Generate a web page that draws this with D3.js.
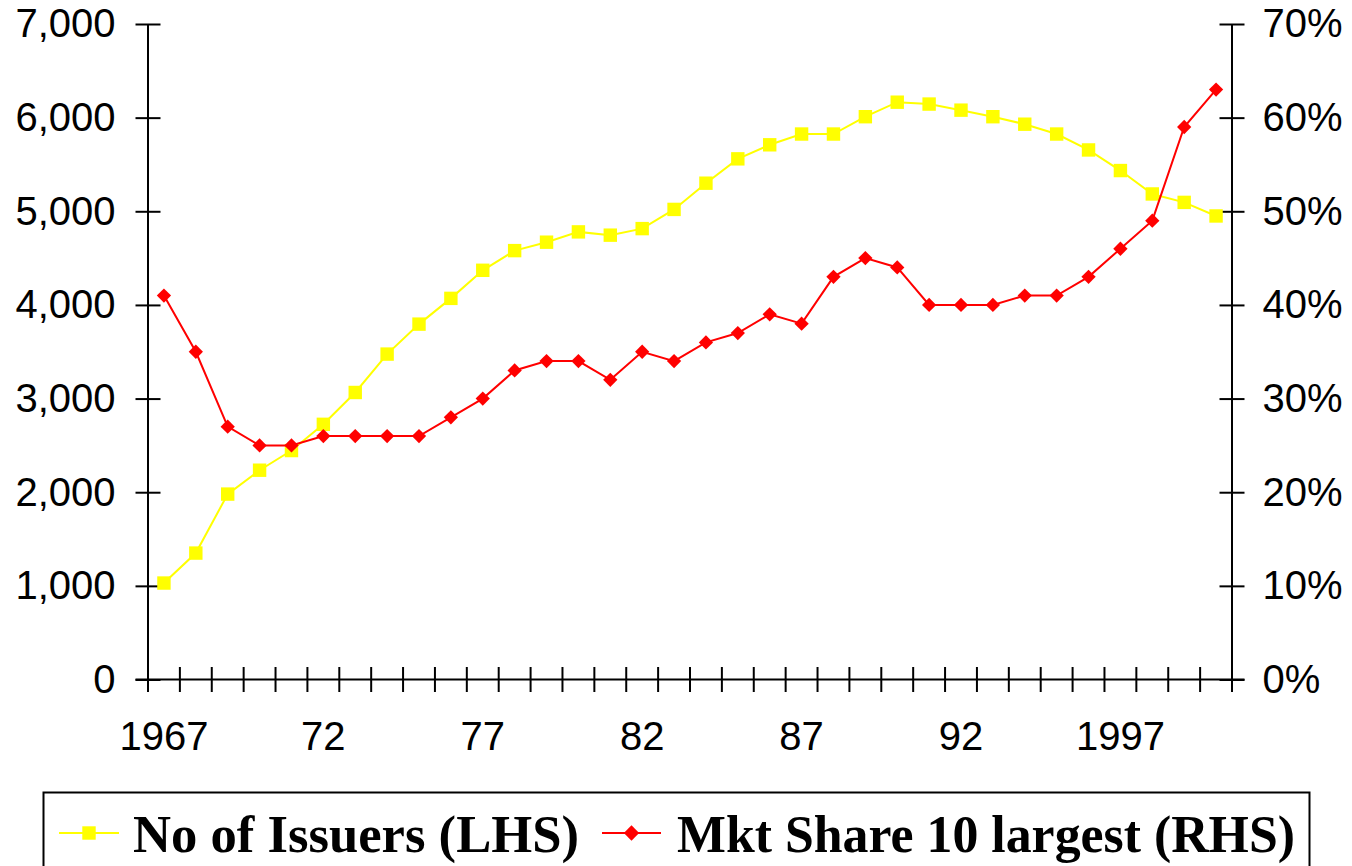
<!DOCTYPE html>
<html>
<head>
<meta charset="utf-8">
<script src="https://cdn.jsdelivr.net/npm/d3@7"></script>
<style>
  body { margin: 0; background: #fff; }
  svg { display: block; }
</style>
</head>
<body>
<svg id="chart"></svg>
<script>
const width = 1352;
const height = 866;

// data
const years = d3.range(1967, 2001);
const issuers = [1030, 1350, 1980, 2235, 2445, 2725, 3065, 3475, 3795, 4070,
  4370, 4580, 4670, 4780, 4745, 4815, 5020, 5300, 5560, 5710,
  5825, 5825, 6010, 6165, 6145, 6080, 6010, 5930, 5825, 5655,
  5435, 5185, 5095, 4950];
const mktShare = [41, 35, 27, 25, 25, 26, 26, 26, 26, 28,
  30, 33, 34, 34, 32, 35, 34, 36, 37, 39,
  38, 43, 45, 44, 40, 40, 40, 41, 41, 43,
  46, 49, 59, 63];
const leftTicks = d3.range(0, 7001, 1000);
const rightTicks = d3.range(0, 71, 10);
const yearLabels = { 1967: "1967", 1972: "72", 1977: "77", 1982: "82", 1987: "87", 1992: "92", 1997: "1997" };
const legendItems = ["No of Issuers (LHS)", "Mkt Share 10 largest (RHS)"];

const plot = { left: 148, right: 1232, top: 24, bottom: 679.5 };
const axisFont = "'Liberation Sans', Arial, sans-serif";
const tickHalf = 12.5;

const svg = d3.select("#chart")
  .attr("width", width)
  .attr("height", height);

const x = d3.scaleBand()
  .domain(years)
  .range([plot.left, plot.right]);
const yL = d3.scaleLinear()
  .domain([0, 7000])
  .range([plot.bottom, plot.top]);
const yR = d3.scaleLinear()
  .domain([0, 70])
  .range([plot.bottom, plot.top]);
const cx = d => x(d) + x.bandwidth() / 2;

// left axis
const leftAxis = svg.append("g")
  .attr("transform", `translate(${plot.left},0)`)
  .call(d3.axisLeft(yL).tickValues(leftTicks).tickFormat(d3.format(",")).tickSize(tickHalf).tickPadding(20));
leftAxis.selectAll(".tick line").attr("x1", tickHalf).attr("x2", -tickHalf);

// right axis
const rightAxis = svg.append("g")
  .attr("transform", `translate(${plot.right},0)`)
  .call(d3.axisRight(yR).tickValues(rightTicks).tickFormat(d => d + "%").tickSize(tickHalf).tickPadding(18));
rightAxis.selectAll(".tick line").attr("x1", -tickHalf).attr("x2", tickHalf);

[leftAxis, rightAxis].forEach(g => {
  g.select(".domain").attr("d", `M0,${plot.top}V${plot.bottom}`);
  g.selectAll("path, line").attr("stroke", "#000").attr("stroke-width", 2);
  g.selectAll("text")
    .attr("font-family", axisFont)
    .attr("font-size", 40)
    .attr("fill", "#000");
});

// category axis, ticks sit between the years
const xAxis = svg.append("g");
xAxis.append("line")
  .attr("x1", plot.left - tickHalf)
  .attr("x2", plot.right + tickHalf)
  .attr("y1", plot.bottom)
  .attr("y2", plot.bottom)
  .attr("stroke", "#000")
  .attr("stroke-width", 2);
xAxis.selectAll("line.tick")
  .data(years.concat([null]))
  .enter()
  .append("line")
  .attr("class", "tick")
  .attr("x1", d => d === null ? plot.right : x(d))
  .attr("x2", d => d === null ? plot.right : x(d))
  .attr("y1", plot.bottom - tickHalf)
  .attr("y2", plot.bottom + tickHalf)
  .attr("stroke", "#000")
  .attr("stroke-width", 2);
xAxis.selectAll("text")
  .data(years.filter(d => yearLabels[d]))
  .enter()
  .append("text")
  .attr("x", d => cx(d))
  .attr("y", 750)
  .attr("text-anchor", "middle")
  .attr("font-family", axisFont)
  .attr("font-size", 40)
  .text(d => yearLabels[d]);

// series
const issuerLine = d3.line().x((d, i) => cx(years[i])).y(d => yL(d));
const shareLine = d3.line().x((d, i) => cx(years[i])).y(d => yR(d));
const squareSym = d3.symbol().type(d3.symbolSquare).size(180);
const diamondSym = d3.symbol().type(d3.symbolDiamond2).size(130);

svg.append("path")
  .attr("d", issuerLine(issuers))
  .attr("fill", "none")
  .attr("stroke", "#ffff00")
  .attr("stroke-width", 2);
svg.selectAll("path.issuer")
  .data(issuers)
  .enter()
  .append("path")
  .attr("class", "issuer")
  .attr("d", squareSym)
  .attr("transform", (d, i) => `translate(${cx(years[i])},${yL(d)})`)
  .attr("fill", "#ffff00");

svg.append("path")
  .attr("d", shareLine(mktShare))
  .attr("fill", "none")
  .attr("stroke", "#ff0000")
  .attr("stroke-width", 2);
svg.selectAll("path.share")
  .data(mktShare)
  .enter()
  .append("path")
  .attr("class", "share")
  .attr("d", diamondSym)
  .attr("transform", (d, i) => `translate(${cx(years[i])},${yR(d)})`)
  .attr("fill", "#ff0000");

// legend
const legend = svg.append("g");
legend.append("rect")
  .attr("x", 43.5)
  .attr("y", 792.5)
  .attr("width", 1266)
  .attr("height", 120)
  .attr("fill", "none")
  .attr("stroke", "#000")
  .attr("stroke-width", 2);
const legendPos = [
  { x0: 59, x1: 119, tx: 133, len: 446, color: "#ffff00", sym: d3.symbol().type(d3.symbolSquare).size(180) },
  { x0: 602, x1: 661, tx: 677, len: 618, color: "#ff0000", sym: d3.symbol().type(d3.symbolDiamond2).size(150) }
];
legendItems.forEach((label, i) => {
  const p = legendPos[i];
  legend.append("line")
    .attr("x1", p.x0).attr("x2", p.x1)
    .attr("y1", 833).attr("y2", 833)
    .attr("stroke", p.color)
    .attr("stroke-width", 2);
  legend.append("path")
    .attr("d", p.sym)
    .attr("transform", `translate(${(p.x0 + p.x1) / 2},833)`)
    .attr("fill", p.color);
  legend.append("text")
    .attr("x", p.tx)
    .attr("y", 852)
    .attr("font-family", "'Liberation Serif', 'Times New Roman', serif")
    .attr("font-weight", "bold")
    .attr("font-size", 53)
    .attr("textLength", p.len)
    .attr("lengthAdjust", "spacingAndGlyphs")
    .text(label);
});
</script>
</body>
</html>
